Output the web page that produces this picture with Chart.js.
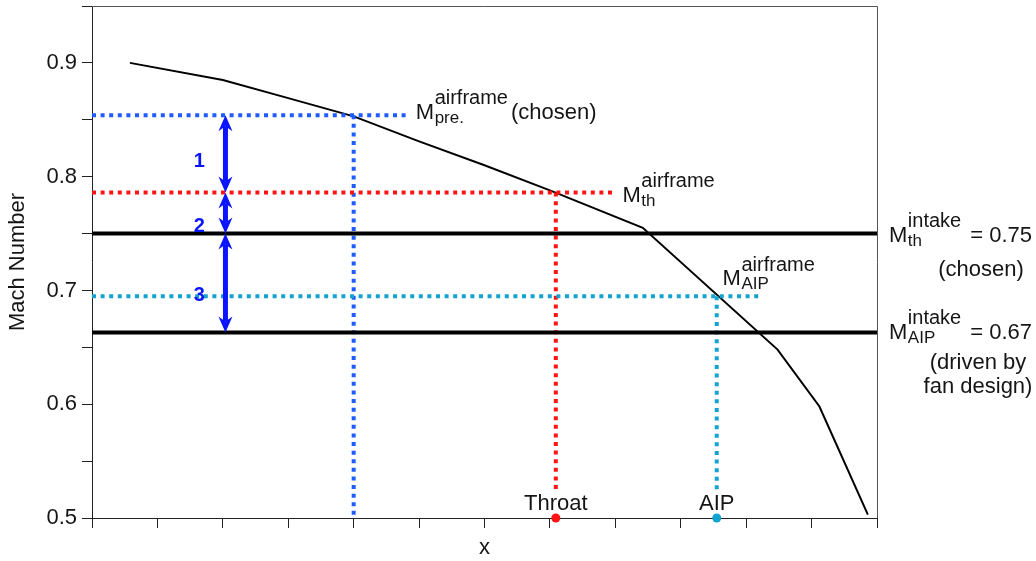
<!DOCTYPE html>
<html lang="en">
<head>
<meta charset="UTF-8">
<title>Mach Number along x</title>
<script src="https://cdn.jsdelivr.net/npm/chart.js"></script>
<style>
  html, body { margin: 0; padding: 0; background: #fff; }
  #wrap { width: 1036px; height: 561px; }
</style>
</head>
<body>
<div id="wrap"><canvas id="machChart" width="1036" height="561"></canvas></div>
<script>
// airframe Mach number along x (x in tick units, axis runs 0..12)
const curveX    = [0.58, 2, 3, 4, 5, 6, 7, 8.42, 10.48, 11.12, 11.86];
const curveMach = [0.900, 0.885, 0.869, 0.853, 0.831, 0.810, 0.788, 0.755, 0.648, 0.598, 0.503];

// levels: pre-entry (chosen), throat airframe, throat intake, AIP airframe, AIP intake
const levelMach = [0.854, 0.786, 0.750, 0.695, 0.663];

// dotted guides for pre-entry, throat and AIP
const guideX      = [4.0, 7.09, 9.55];
const guideEndX   = [4.83, 7.98, 10.2];
const guideBottom = [0.5, 0.522, 0.522];

const stationNames = ['Throat', 'AIP'];
const stationX     = [7.09, 9.55];

const arrowX      = 2.04;
const arrowLabels = ['1', '2', '3'];
const yLabelTicks = [0.5, 0.6, 0.7, 0.8, 0.9];

const BLUE = '#1f5cff', RED = '#ff1414', CYAN = '#14a3cf', ARROW = '#0a14ff', INK = '#151515';
const FONT = '"Liberation Sans", Arial, sans-serif';
const MAIN = '22px ' + FONT, SUP = '20px ' + FONT, SUB = '17px ' + FONT;

const pts = (xs, ys) => xs.map((x, i) => ({ x: x, y: ys[i] }));
const line = (data, color, width, dash) => ({
    data: data, showLine: true, borderColor: color, borderWidth: width,
    borderDash: dash || [], borderCapStyle: 'butt', pointRadius: 0, fill: false
});
const dots = [4, 4.6];

const datasets = [
    line(pts([0, 12], [levelMach[2], levelMach[2]]), '#000', 4),
    line(pts([0, 12], [levelMach[4], levelMach[4]]), '#000', 4),
    line(pts([0, guideEndX[0]], [levelMach[0], levelMach[0]]), BLUE, 4, dots),
    line(pts([0, guideEndX[1]], [levelMach[1], levelMach[1]]), RED, 4, dots),
    line(pts([0, guideEndX[2]], [levelMach[3], levelMach[3]]), CYAN, 4, dots),
    line(pts([guideX[0], guideX[0]], [levelMach[0], guideBottom[0]]), BLUE, 4, dots),
    line(pts([guideX[1], guideX[1]], [levelMach[1], guideBottom[1]]), RED, 4, dots),
    line(pts([guideX[2], guideX[2]], [levelMach[3], guideBottom[2]]), CYAN, 4, dots),
    line(pts(curveX, curveMach), '#000', 2),
    {
        data: pts(stationX, [0.5, 0.5]), showLine: false, clip: false,
        pointRadius: 4.5, pointBackgroundColor: [RED, CYAN], pointBorderWidth: 0
    }
];

// M with sub- and superscript, then optional trailing text
function mLabel(ctx, x0, yb, sub, sup, tail) {
    ctx.textAlign = 'left';
    ctx.textBaseline = 'alphabetic';
    ctx.fillStyle = INK;
    ctx.font = MAIN;
    ctx.fillText('M', x0, yb);
    const xs = x0 + ctx.measureText('M').width + 0.5;
    ctx.font = SUP;
    ctx.fillText(sup, xs, yb - 14.5);
    const wSup = ctx.measureText(sup).width;
    ctx.font = SUB;
    ctx.fillText(sub, xs, yb + 4);
    const wSub = ctx.measureText(sub).width;
    if (tail) {
        ctx.font = MAIN;
        ctx.fillText(tail, xs + Math.max(wSup, wSub) + 3, yb);
    }
}

function arrow(ctx, px, top, bottom) {
    const head = 16, half = 7, notch = 11;
    ctx.strokeStyle = ARROW;
    ctx.fillStyle = ARROW;
    ctx.lineWidth = 5;
    ctx.beginPath();
    ctx.moveTo(px, top + notch);
    ctx.lineTo(px, bottom - notch);
    ctx.stroke();
    [[top, 1], [bottom, -1]].forEach(([tip, d]) => {
        ctx.beginPath();
        ctx.moveTo(px, tip);
        ctx.lineTo(px + half, tip + d * head);
        ctx.lineTo(px, tip + d * notch);
        ctx.lineTo(px - half, tip + d * head);
        ctx.closePath();
        ctx.fill();
    });
}

const annotate = {
    id: 'annotate',
    afterDatasetsDraw(chart) {
        const { ctx, chartArea: a, scales: { x, y } } = chart;
        ctx.save();

        // frame on top and right
        ctx.strokeStyle = '#555';
        ctx.lineWidth = 1;
        ctx.beginPath();
        ctx.moveTo(a.left, a.top + 0.5);
        ctx.lineTo(a.right + 0.5, a.top + 0.5);
        ctx.lineTo(a.right + 0.5, a.bottom);
        ctx.stroke();

        // margin arrows 1, 2, 3
        const px = x.getPixelForValue(arrowX);
        const ends = [[levelMach[0], levelMach[1]], [levelMach[1], levelMach[2]], [levelMach[2], levelMach[4]]];
        ends.forEach(([hi, lo]) => {
            arrow(ctx, px, y.getPixelForValue(hi), y.getPixelForValue(lo));
        });
        ctx.font = 'bold 20px ' + FONT;
        ctx.fillStyle = ARROW;
        ctx.textAlign = 'center';
        ctx.textBaseline = 'middle';
        const numY = [0.813, 0.756, 0.696];
        arrowLabels.forEach((t, i) => ctx.fillText(t, x.getPixelForValue(1.64), y.getPixelForValue(numY[i])));

        // station names
        ctx.font = MAIN;
        ctx.fillStyle = INK;
        ctx.textBaseline = 'alphabetic';
        stationNames.forEach((n, i) => ctx.fillText(n, x.getPixelForValue(stationX[i]), y.getPixelForValue(0.507)));

        // labels inside the plot
        mLabel(ctx, x.getPixelForValue(4.95), y.getPixelForValue(0.851), 'pre.', 'airframe', '(chosen)');
        mLabel(ctx, x.getPixelForValue(8.11), y.getPixelForValue(0.778), 'th', 'airframe');
        mLabel(ctx, x.getPixelForValue(9.64), y.getPixelForValue(0.7047), 'AIP', 'airframe');

        // labels right of the plot
        const lx = a.right + 12, rx = a.right + 155, cx = a.right + 104;
        const bTh = y.getPixelForValue(levelMach[2]) + 8;
        const bAip = y.getPixelForValue(levelMach[4]) + 6;
        mLabel(ctx, lx, bTh, 'th', 'intake');
        mLabel(ctx, lx, bAip, 'AIP', 'intake');
        ctx.font = MAIN;
        ctx.fillStyle = INK;
        ctx.textAlign = 'right';
        ctx.fillText('= 0.75', rx, bTh);
        ctx.fillText('= 0.67', rx, bAip);
        ctx.textAlign = 'center';
        ctx.fillText('(chosen)', cx, bTh + 34);
        ctx.fillText('(driven by', cx - 3, bAip + 30);
        ctx.fillText('fan design)', cx - 3, bAip + 54);

        ctx.restore();
    }
};

new Chart(document.getElementById('machChart'), {
    type: 'scatter',
    data: { datasets: datasets },
    options: {
        responsive: false,
        animation: false,
        layout: { padding: { top: 6, right: 159, bottom: 0, left: 0 } },
        plugins: { legend: { display: false }, tooltip: { enabled: false } },
        scales: {
            x: {
                type: 'linear', min: 0, max: 12,
                afterFit: s => { s.height = 43; s.paddingLeft = 0; s.paddingRight = 0; },
                ticks: { stepSize: 1, autoSkip: false, callback: () => '' },
                grid: { drawOnChartArea: false, drawTicks: true, tickLength: 10, color: '#222' },
                border: { color: '#222', width: 1 },
                title: { display: true, text: 'x', color: INK, font: { family: FONT, size: 22 }, padding: { top: 0, bottom: 0 } }
            },
            y: {
                type: 'linear', min: 0.5, max: 0.95,
                afterFit: s => { s.width = 92; s.paddingTop = 0; s.paddingBottom = 0; },
                ticks: {
                    stepSize: 0.05, autoSkip: false, padding: 5, color: INK,
                    font: { family: FONT, size: 22 },
                    callback: v => yLabelTicks.some(t => Math.abs(t - v) < 1e-6) ? v.toFixed(1) : ''
                },
                grid: { drawOnChartArea: false, drawTicks: true, tickLength: 10, color: '#222' },
                border: { color: '#222', width: 1 },
                title: { display: true, text: 'Mach Number', color: INK, font: { family: FONT, size: 22 }, padding: { top: 5, bottom: 4 } }
            }
        }
    },
    plugins: [annotate]
});
</script>
</body>
</html>
